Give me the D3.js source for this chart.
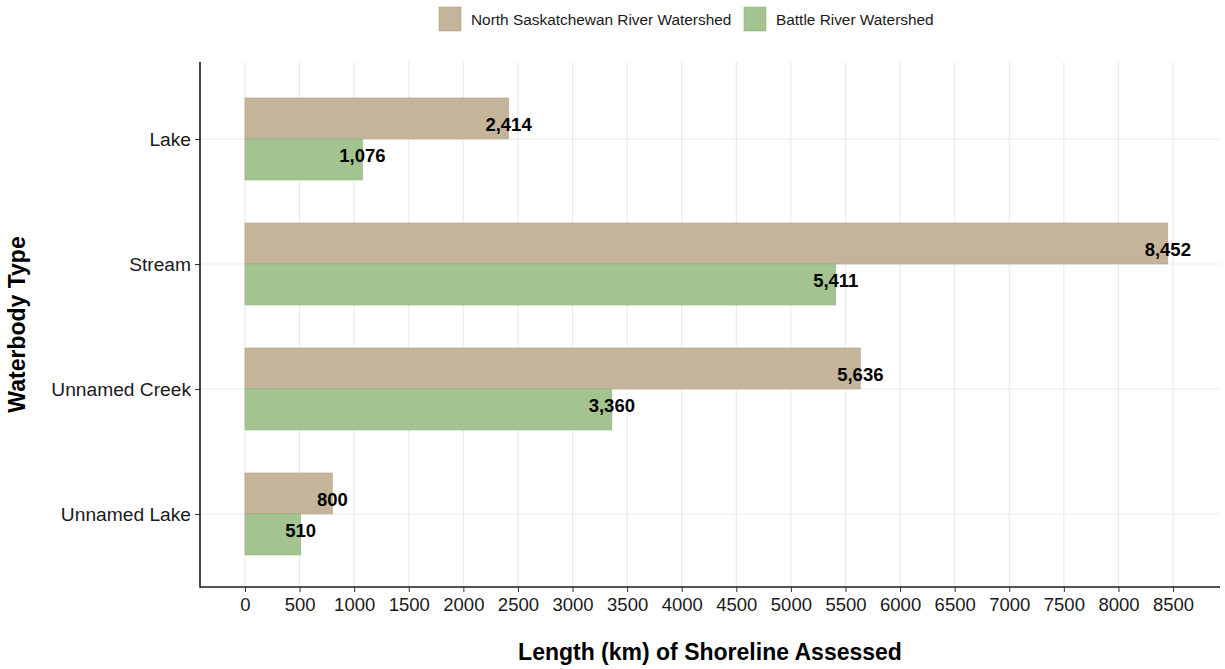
<!DOCTYPE html>
<html><head><meta charset="utf-8">
<script src="https://cdn.jsdelivr.net/npm/d3@7"></script>
<style>body{margin:0;background:#fff}svg{display:block}text{font-family:"Liberation Sans",Arial,sans-serif}</style>
</head><body><svg id="c" width="1225" height="669"></svg>
<script>
const categories = ["Lake","Stream","Unnamed Creek","Unnamed Lake"];
const seriesNames = ["North Saskatchewan River Watershed","Battle River Watershed"];
const northSask = [2414, 8452, 5636, 800];
const battle = [1076, 5411, 3360, 510];
const xTicks = d3.range(0, 8501, 500);
const colors = ["#c4b49a","#a3c490"];
const strokes = ["#b3a286","#8fb47c"];

const svg = d3.select("#c");
const L = 200, R = 1220, T = 62, B = 587;
const x = d3.scaleLinear().domain([-412, 8930]).range([L, R]);
const yc = d3.scalePoint().domain(categories).range([139, 514]);
const bh = 41;

// grid
svg.append("g").selectAll("line").data(xTicks).join("line")
  .attr("x1", d => x(d)).attr("x2", d => x(d)).attr("y1", T).attr("y2", B)
  .attr("stroke", "#ebebeb").attr("stroke-width", 1.2);
svg.append("g").selectAll("line").data(categories).join("line")
  .attr("x1", L).attr("x2", R).attr("y1", d => yc(d)).attr("y2", d => yc(d))
  .attr("stroke", "#ebebeb").attr("stroke-width", 1.2);

const data = [northSask, battle];
data.forEach((vals, s) => {
  svg.append("g").selectAll("rect").data(categories).join("rect")
    .attr("x", x(0)).attr("width", (d, i) => x(vals[i]) - x(0))
    .attr("y", d => yc(d) - bh + s * bh).attr("height", bh)
    .attr("fill", colors[s]).attr("stroke", strokes[s]).attr("stroke-width", 0.6);
});
const fmt = d3.format(",");
data.forEach((vals, s) => {
  svg.append("g").selectAll("text").data(categories).join("text")
    .attr("x", (d, i) => x(vals[i])).attr("y", d => yc(d) + (s === 0 ? -15 : 16))
    .attr("text-anchor", "middle").attr("dominant-baseline", "central")
    .attr("font-size", 18.5).attr("font-weight", "bold").attr("fill", "#000")
    .text((d, i) => fmt(vals[i]));
});

// axes
const xa = svg.append("g").attr("transform", `translate(0,${B})`)
  .call(d3.axisBottom(x).tickValues(xTicks).tickSize(5).tickPadding(6).tickFormat(d3.format("d")));
xa.select(".domain").remove();
xa.selectAll("line").attr("stroke", "#333");
xa.selectAll("text").attr("font-size", 18.5).attr("fill", "#1a1a1a").attr("font-family", "Liberation Sans, Arial, sans-serif");
svg.append("line").attr("x1", L).attr("x2", R).attr("y1", B).attr("y2", B).attr("stroke", "#1a1a1a").attr("stroke-width", 1.6);

const ya = svg.append("g").attr("transform", `translate(${L},0)`)
  .call(d3.axisLeft(yc).tickSize(5).tickPadding(4));
ya.select(".domain").remove();
ya.selectAll("line").attr("stroke", "#333");
ya.selectAll("text").attr("font-size", 19.2).attr("fill", "#1a1a1a").attr("font-family", "Liberation Sans, Arial, sans-serif");
svg.append("line").attr("x1", L).attr("x2", L).attr("y1", T).attr("y2", B + 0.8).attr("stroke", "#1a1a1a").attr("stroke-width", 1.6);

// titles
svg.append("text").attr("x", (L + R) / 2).attr("y", 660).attr("text-anchor", "middle")
  .attr("font-size", 23).attr("font-weight", "bold").text("Length (km) of Shoreline Assessed");
svg.append("text").attr("transform", `translate(25,${(T + B) / 2}) rotate(-90)`).attr("text-anchor", "middle")
  .attr("font-size", 23).attr("font-weight", "bold").text("Waterbody Type");

// legend
const legX = [439, 744];
seriesNames.forEach((n, i) => {
  svg.append("rect").attr("x", legX[i]).attr("y", 7).attr("width", 22).attr("height", 24)
    .attr("fill", colors[i]).attr("stroke", strokes[i]).attr("stroke-width", 0.6);
  svg.append("text").attr("x", legX[i] + 32).attr("y", 19.5).attr("dominant-baseline", "central")
    .attr("font-size", 15.4).attr("fill", "#1a1a1a").text(n);
});
</script></body></html>
